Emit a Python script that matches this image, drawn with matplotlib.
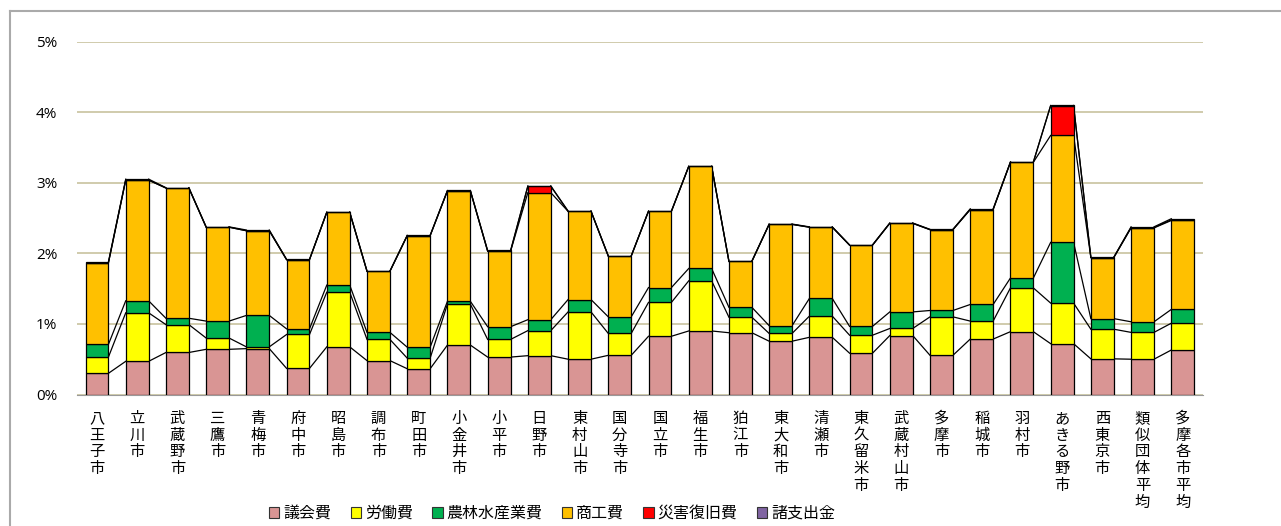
from matplotlib import pyplot as plt
from matplotlib.patches import Patch
from matplotlib.lines import Line2D
import numpy as np

plt.rcParams['font.family'] = ['Noto Sans CJK JP', 'DejaVu Sans']

cities = ['八王子市', '立川市', '武蔵野市', '三鷹市', '青梅市', '府中市', '昭島市',
          '調布市', '町田市', '小金井市', '小平市', '日野市', '東村山市', '国分寺市',
          '国立市', '福生市', '狛江市', '東大和市', '清瀬市', '東久留米市', '武蔵村山市',
          '多摩市', '稲城市', '羽村市', 'あきる野市', '西東京市', '類似団体平均', '多摩各市平均']

# 単位: %
gikai = [0.30, 0.47, 0.595, 0.64, 0.65, 0.37, 0.675, 0.48, 0.365, 0.70, 0.53, 0.55, 0.50, 0.555,
         0.825, 0.90, 0.875, 0.755, 0.81, 0.585, 0.835, 0.555, 0.785, 0.89, 0.72, 0.505, 0.50, 0.63]
roudou = [0.23, 0.687, 0.395, 0.16, 0.025, 0.48, 0.775, 0.30, 0.15, 0.58, 0.25, 0.355, 0.67, 0.31,
          0.48, 0.71, 0.22, 0.11, 0.30, 0.255, 0.10, 0.545, 0.255, 0.62, 0.575, 0.42, 0.38, 0.38]
nourin = [0.18, 0.17, 0.09, 0.24, 0.445, 0.08, 0.10, 0.10, 0.155, 0.04, 0.18, 0.155, 0.175, 0.235,
          0.21, 0.175, 0.14, 0.11, 0.25, 0.125, 0.235, 0.09, 0.235, 0.14, 0.86, 0.15, 0.15, 0.195]
shoukou = [1.155, 1.71, 1.845, 1.33, 1.20, 0.98, 1.03, 0.865, 1.58, 1.565, 1.07, 1.80, 1.25, 0.86,
           1.08, 1.445, 0.65, 1.435, 1.01, 1.15, 1.255, 1.145, 1.345, 1.64, 1.515, 0.865, 1.33, 1.26]
saigai = [0, 0, 0, 0, 0, 0, 0, 0, 0, 0, 0, 0.09, 0, 0,
          0, 0, 0, 0, 0, 0, 0, 0, 0, 0, 0.42, 0, 0.005, 0.01]
shoshishutsu = [0.015, 0.014, 0.005, 0.005, 0.01, 0.005, 0.005, 0.005, 0.005, 0.005, 0.01, 0.005, 0.005, 0.005,
                0.005, 0.005, 0.005, 0.005, 0.005, 0.005, 0.005, 0.005, 0.01, 0.005, 0.005, 0.005, 0.01, 0.015]

series = [('議会費', gikai, '#D99594'),
          ('労働費', roudou, '#FFFF00'),
          ('農林水産業費', nourin, '#00B050'),
          ('商工費', shoukou, '#FFC000'),
          ('災害復旧費', saigai, '#FF0000'),
          ('諸支出金', shoshishutsu, '#8064A2')]

fig = plt.figure(figsize=(12.81, 5.26), dpi=100)
ax = fig.add_axes([0.060, 0.250, 0.879, 0.671])

x = np.arange(len(cities))
w = 0.57
bottom = np.zeros(len(cities))
for name, vals, col in series:
  vals = np.array(vals)
  ax.bar(x, vals, w, bottom=bottom, color=col, edgecolor='black', linewidth=0.9, zorder=3)
  bottom = bottom + vals
  # 区分線 (Excelの系列線)
  for i in range(len(cities) - 1):
    ax.plot([x[i] + w / 2, x[i + 1] - w / 2], [bottom[i], bottom[i + 1]],
            color='black', lw=0.9, zorder=2)

ax.set_xlim(-0.5, len(cities) - 0.5)
ax.set_ylim(0, 5)
ax.set_yticks(range(6))
ax.set_yticklabels([f'{v}%' for v in range(6)], fontsize=11, family=['Open Sans', 'DejaVu Sans'])
ax.yaxis.grid(True, color='#C8C29E', lw=1.2, zorder=0)
ax.set_axisbelow(True)
ax.set_xticks(x)
ax.set_xticklabels(['\n'.join(c) for c in cities], fontsize=11, va='top', linespacing=0.98)
ax.tick_params(axis='both', length=0)
ax.tick_params(axis='x', pad=11)
ax.tick_params(axis='y', pad=14)
for s in ['left', 'right', 'top']:
  ax.spines[s].set_visible(False)
ax.spines['bottom'].set_color('#999999')

# 外枠
fig.add_artist(Line2D([10 / 1281, 10 / 1281], [0, 1 - 11 / 526], color='#AAAAAA', lw=1.5))
fig.add_artist(Line2D([10 / 1281, 1280 / 1281], [1 - 11 / 526, 1 - 11 / 526], color='#AAAAAA', lw=1.5))

handles = [Patch(facecolor=col, edgecolor='#333333', lw=0.8) for _, _, col in series]
fig.legend(handles, [s[0] for s in series], loc='center', bbox_to_anchor=(0.431, 0.024),
           ncol=6, frameon=False, fontsize=11.5, handlelength=0.65, handleheight=0.65,
           handletextpad=0.25, columnspacing=1.2)

fig.savefig('out.png')
